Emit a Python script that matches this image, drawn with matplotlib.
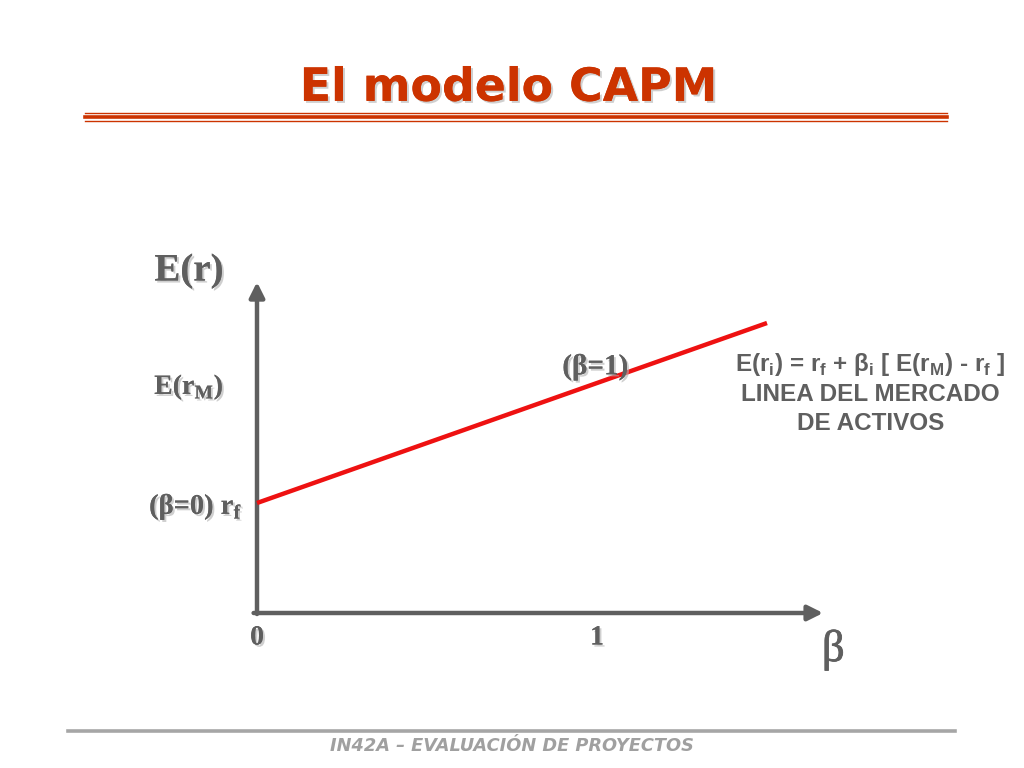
import matplotlib.pyplot as plt
import matplotlib.patheffects as pe

# CAPM security market line values (beta on x, expected return on y)
betas = [0.0, 1.5]
rf = 1.1
erm = 2.3
x_ticks = [0, 1]
x_tick_labels = ['0', '1']
title = 'El modelo CAPM'
footer = 'IN42A – EVALUACIÓN DE PROYECTOS'
formula_lines = ['E(r$_\\mathregular{i}$) = r$_\\mathregular{f}$ + β$_\\mathregular{i}$ [ E(r$_\\mathregular{M}$) - r$_\\mathregular{f}$ ]',
                 'LINEA DEL MERCADO', 'DE ACTIVOS']

sml = [rf + b * (erm - rf) for b in betas]

grey = '#5f5f5f'
red = '#ee1111'
title_red = '#cc3300'
shadow = [pe.withSimplePatchShadow(offset=(1.5, -1.5), shadow_rgbFace='#b0b0b0', alpha=0.6), pe.Normal()]

fig = plt.figure(figsize=(10.24, 7.68), dpi=100)
fig.patch.set_facecolor('white')

# axes spans whole figure; origin of the diagram at pixel (257, 613)
ax = fig.add_axes([0, 0, 1, 1])
ax.set_xlim((0 - 257) / 340, (1024 - 257) / 340)
ax.set_ylim((613 - 768) / 100, 613 / 100)
ax.axis('off')

# axes with arrows
ax.annotate('', xy=(1.665, 0), xytext=(-0.01, 0),
            arrowprops=dict(arrowstyle='-|>,head_length=0.9,head_width=0.45', color=grey, lw=3.2, shrinkA=0, shrinkB=0))
ax.annotate('', xy=(0, 3.31), xytext=(0, -0.01),
            arrowprops=dict(arrowstyle='-|>,head_length=0.9,head_width=0.45', color=grey, lw=3.2, shrinkA=0, shrinkB=0))

# security market line
ax.plot(betas, sml, color=red, lw=3.2, solid_capstyle='butt', zorder=3)

serif = dict(family=['Liberation Serif', 'DejaVu Serif'], fontweight='bold', color=grey)
ax.text(-0.2, 3.42, 'E(r)', fontsize=28, ha='center', va='center', path_effects=shadow, **serif)
ax.text(-0.2, 2.26, 'E(r$_\\mathregular{M}$)', fontsize=20, ha='center', va='center', path_effects=shadow, **serif)
ax.text(-0.18, 1.06, '(β=0) r$_\\mathregular{f}$', fontsize=20.5, ha='center', va='center', path_effects=shadow, **serif)
ax.text(0.995, 2.46, '(β=1)', fontsize=21, ha='center', va='center', path_effects=shadow, **serif)
for xt, lab in zip(x_ticks, x_tick_labels):
    ax.text(xt, -0.25, lab, fontsize=20, ha='center', va='center', path_effects=shadow, **serif)
ax.text(1.695, -0.37, 'β', fontsize=32, ha='center', va='center', family=['Liberation Serif', 'DejaVu Serif'],
        color=grey, path_effects=[pe.withStroke(linewidth=0.6, foreground=grey)])

sans = dict(family=['Liberation Sans', 'DejaVu Sans'], fontweight='bold', color=grey, fontsize=17.5, ha='center', va='center')
for i, line in enumerate(formula_lines):
    ax.text(1.805, 2.48 - i * 0.295, line, **sans)

# title and decorations
fig.text(0.497, 0.885, title, fontsize=33, fontweight='bold', color=title_red, ha='center', va='center',
         family=['DejaVu Sans'], path_effects=shadow)
for y, lw in [(113, 1.0), (116.5, 2.6), (121, 1.0)]:
    fig.add_artist(plt.Line2D([85 / 1024, 947 / 1024], [1 - y / 768] * 2, color=title_red, lw=lw))
fig.add_artist(plt.Line2D([68 / 1024, 955 / 1024], [1 - 731 / 768] * 2, color='#a6a6a6', lw=2.6))
fig.text(0.5, 1 - 746 / 768, footer, fontsize=12.8, fontweight='bold', fontstyle='italic', color='#a0a0a0',
         ha='center', va='center', family=['DejaVu Sans'])

fig.savefig('out.png', dpi=100, facecolor='white')
